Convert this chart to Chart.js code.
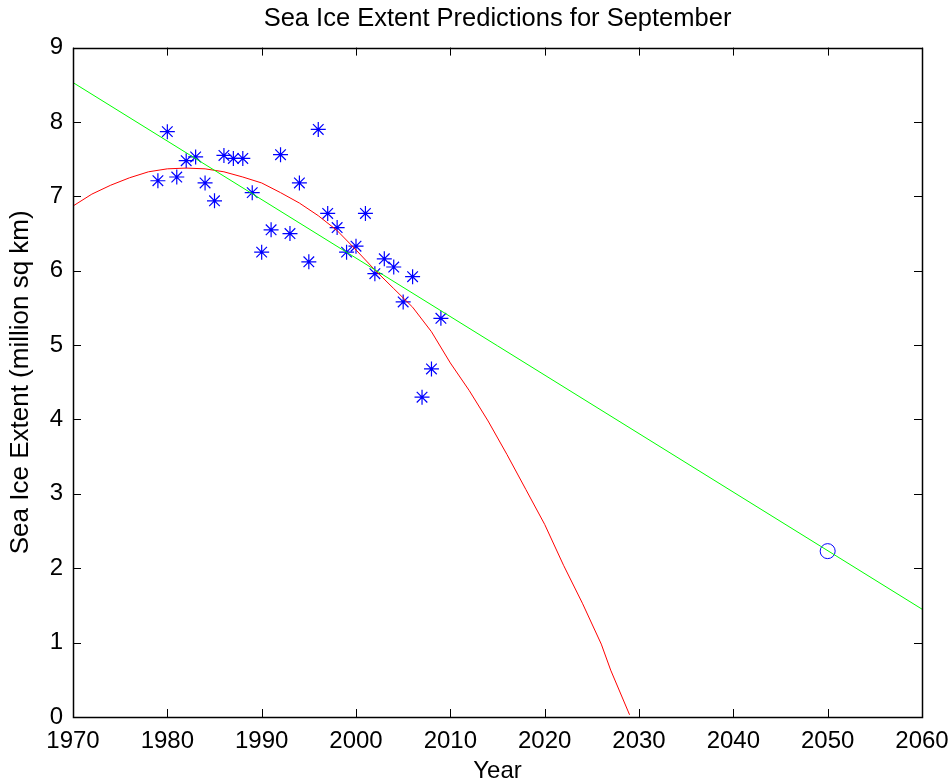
<!DOCTYPE html>
<html>
<head>
<meta charset="utf-8">
<script src="https://cdn.jsdelivr.net/npm/chart.js@4/dist/chart.umd.min.js"></script>
<style>
  html, body { margin: 0; padding: 0; background: #fff; }
  #wrap { width: 950px; height: 784px; }
</style>
</head>
<body>
<div id="wrap"><canvas id="iceChart" width="950" height="784"></canvas></div>
<script>
// observed September extent
const obsYears = [1979, 1980, 1981, 1982, 1983, 1984, 1985, 1986, 1987, 1988,
                  1989, 1990, 1991, 1992, 1993, 1994, 1995, 1996, 1997, 1998,
                  1999, 2000, 2001, 2002, 2003, 2004, 2005, 2006, 2007, 2008, 2009];
const obsExtent = [7.21, 7.87, 7.26, 7.48, 7.53, 7.18, 6.94, 7.55, 7.51, 7.51,
                   7.05, 6.25, 6.55, 7.56, 6.50, 7.18, 6.12, 7.90, 6.77, 6.58,
                   6.25, 6.33, 6.77, 5.96, 6.16, 6.05, 5.58, 5.92, 4.30, 4.68, 5.36];

// linear fit (green)
const linYears = [1970, 2060];
const linExtent = [8.53, 1.45];

// quadratic fit (red)
const quadYears = [1970, 1972, 1974, 1976, 1978, 1980, 1982, 1984, 1986, 1988,
                   1990, 1992, 1994, 1996, 1998, 2000, 2002, 2004, 2006, 2008,
                   2010, 2012, 2014, 2016, 2018, 2020, 2022, 2024, 2026, 2027, 2029];
const quadExtent = [6.87, 7.03, 7.15, 7.25, 7.33, 7.37, 7.38, 7.37, 7.33, 7.26,
                    7.18, 7.05, 6.91, 6.74, 6.54, 6.28, 6.01, 5.76, 5.51, 5.18,
                    4.76, 4.39, 3.98, 3.53, 3.06, 2.59, 2.04, 1.53, 0.98, 0.63, 0.03];

// prediction marker
const predYear = [2050];
const predExtent = [2.23];

const xTicks = [1970, 1980, 1990, 2000, 2010, 2020, 2030, 2040, 2050, 2060];
const yTicks = [0, 1, 2, 3, 4, 5, 6, 7, 8, 9];

const toPoints = (xs, ys) => xs.map((x, i) => ({ x: x, y: ys[i] }));

const FONT = 'Liberation Sans, Arial, Helvetica, sans-serif';

// box round the plot with inward ticks on all four sides
const matlabBox = {
  id: 'matlabBox',
  afterDraw(chart) {
    const ctx = chart.ctx;
    const a = chart.chartArea;
    const xs = chart.scales.x, ys = chart.scales.y;
    const len = 8;
    ctx.save();
    ctx.strokeStyle = '#000';
    ctx.lineWidth = 1;
    ctx.beginPath();
    xs.ticks.forEach(t => {
      const px = Math.round(xs.getPixelForValue(t.value)) + 0.5;
      ctx.moveTo(px, a.bottom); ctx.lineTo(px, a.bottom - len);
      ctx.moveTo(px, a.top); ctx.lineTo(px, a.top + len);
    });
    ys.ticks.forEach(t => {
      const py = Math.round(ys.getPixelForValue(t.value)) + 0.5;
      ctx.moveTo(a.left, py); ctx.lineTo(a.left + len, py);
      ctx.moveTo(a.right, py); ctx.lineTo(a.right - len, py);
    });
    ctx.stroke();
    ctx.lineWidth = 1.5;
    ctx.strokeRect(Math.round(a.left) + 0.5, Math.round(a.top) + 0.5,
                   Math.round(a.right - a.left), Math.round(a.bottom - a.top));
    ctx.restore();
  }
};

new Chart(document.getElementById('iceChart').getContext('2d'), {
  type: 'scatter',
  data: {
    datasets: [
      {
        label: 'Linear',
        data: toPoints(linYears, linExtent),
        showLine: true,
        borderColor: '#00ff00',
        borderWidth: 1,
        pointRadius: 0,
        tension: 0
      },
      {
        label: 'Quadratic',
        data: toPoints(quadYears, quadExtent),
        showLine: true,
        borderColor: '#ff0000',
        borderWidth: 1,
        pointRadius: 0,
        tension: 0
      },
      {
        label: 'Observed',
        data: toPoints(obsYears, obsExtent),
        pointStyle: 'star',
        pointRadius: 7.5,
        borderColor: '#0000ff',
        backgroundColor: '#0000ff',
        borderWidth: 1.2
      },
      {
        label: '2050',
        data: toPoints(predYear, predExtent),
        pointStyle: 'circle',
        pointRadius: 7.5,
        borderColor: '#0000ff',
        backgroundColor: 'rgba(0,0,0,0)',
        borderWidth: 1
      }
    ]
  },
  options: {
    responsive: false,
    animation: false,
    layout: { padding: { left: 0, right: 28, top: 0, bottom: 0 } },
    plugins: {
      legend: { display: false },
      tooltip: { enabled: false },
      title: {
        display: true,
        fullSize: false,
        text: 'Sea Ice Extent Predictions for September',
        color: '#000',
        font: { family: FONT, size: 25.5, weight: 'normal' },
        padding: { top: 4, bottom: 13 }
      }
    },
    scales: {
      x: {
        type: 'linear',
        min: 1970,
        max: 2060,
        afterBuildTicks: s => { s.ticks = xTicks.map(v => ({ value: v })); },
        afterFit: s => { s.height = 67; s.paddingLeft = 0; s.paddingRight = 0; },
        grid: { display: false, drawTicks: false },
        border: { display: false },
        ticks: {
          color: '#000',
          padding: 10,
          maxRotation: 0,
          font: { family: FONT, size: 24 },
          callback: v => String(v)
        },
        title: {
          display: true,
          text: 'Year',
          color: '#000',
          padding: { top: 0, bottom: -2 },
          font: { family: FONT, size: 24 }
        }
      },
      y: {
        type: 'linear',
        min: 0,
        max: 9,
        afterBuildTicks: s => { s.ticks = yTicks.map(v => ({ value: v })); },
        afterFit: s => { s.width = 73; s.paddingTop = 0; s.paddingBottom = 0; },
        grid: { display: false, drawTicks: false },
        border: { display: false },
        ticks: {
          color: '#000',
          padding: 10,
          font: { family: FONT, size: 24 },
          callback: v => String(v)
        },
        title: {
          display: true,
          text: 'Sea Ice Extent (million sq km)',
          color: '#000',
          padding: { top: 5, bottom: 0 },
          font: { family: FONT, size: 26 }
        }
      }
    }
  },
  plugins: [matlabBox]
});
</script>
</body>
</html>
